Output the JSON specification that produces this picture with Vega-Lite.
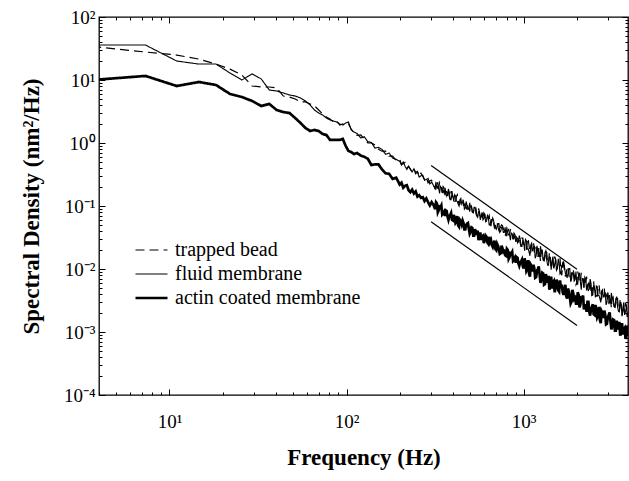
{
  "$schema": "https://vega.github.io/schema/vega-lite/v6.json",
  "width": 529,
  "height": 378,
  "autosize": {"type": "none"},
  "padding": {"left": 99, "top": 17, "right": 1, "bottom": 86},
  "background": "white",
  "config": {
    "font": "Liberation Serif",
    "view": {"stroke": "black", "strokeWidth": 1.3},
    "axis": {
      "labelFont": "Liberation Serif", "titleFont": "Liberation Serif",
      "labelColor": "black", "titleColor": "black", "tickColor": "black",
      "domain": false, "grid": false, "labelFontSize": 19, "titleFontSize": 23,
      "titleFontWeight": "bold", "tickWidth": 1, "labelOverlap": false, "labelFlush": false
    },
    "legend": {"labelFont": "Liberation Serif", "labelFontSize": 20, "labelColor": "black", "labelLimit": 400}
  },
  "datasets": {
    "spec": [
      {"f":3.66,"t":34.0,"m":35.9,"a":10.0},
      {"f":7.32,"t":27.8,"m":35.9,"a":11.6},
      {"f":10.99,"t":24.9,"m":20.0,"a":8.03},
      {"f":14.65,"t":21.5,"m":17.9,"a":9.30},
      {"f":18.31,"t":17.9,"m":17.9,"a":8.33},
      {"f":21.97,"t":14.9,"m":12.9,"a":6.00},
      {"f":25.63,"t":12.0,"m":10.0,"a":5.37},
      {"f":29.30,"t":8.03,"m":12.5,"a":4.64},
      {"f":32.96,"t":7.74,"m":10.4,"a":3.87},
      {"f":36.62,"t":7.74,"m":6.94,"a":4.16},
      {"f":40.28,"t":7.47,"m":6.69,"a":3.34},
      {"f":43.94,"t":5.57,"m":6.22,"a":3.10},
      {"f":47.61,"t":5.37,"m":5.78,"a":2.99},
      {"f":51.27,"t":4.99,"m":5.57,"a":2.49},
      {"f":54.93,"t":4.48,"m":5.18,"a":2.08},
      {"f":58.59,"t":4.48,"m":4.64,"a":1.73},
      {"f":62.26,"t":4.16,"m":4.01,"a":1.55},
      {"f":65.92,"t":3.87,"m":3.34,"a":1.61},
      {"f":69.58,"t":3.34,"m":2.99,"a":1.55},
      {"f":73.24,"t":2.88,"m":2.78,"a":1.39},
      {"f":76.90,"t":2.59,"m":2.49,"a":1.34},
      {"f":80.57,"t":2.40,"m":2.32,"a":1.12},
      {"f":84.23,"t":2.15,"m":2.24,"a":1.12},
      {"f":87.89,"t":2.24,"m":2.15,"a":1.12},
      {"f":91.55,"t":1.93,"m":2.00,"a":1.12},
      {"f":95.21,"t":2.00,"m":1.93,"a":1.16},
      {"f":98.88,"t":1.86,"m":2.08,"a":0.895},
      {"f":102.5,"t":2.00,"m":2.15,"a":0.746},
      {"f":106.2,"t":1.67,"m":1.61,"a":0.719},
      {"f":109.9,"t":1.44,"m":1.50,"a":0.668},
      {"f":114.8,"t":1.318,"m":1.413,"a":0.692},
      {"f":120.2,"t":1.349,"m":1.202,"a":0.631},
      {"f":125.9,"t":1.148,"m":1.259,"a":0.603},
      {"f":131.8,"t":1.0,"m":1.047,"a":0.562},
      {"f":138.0,"t":1.0,"m":1.023,"a":0.447},
      {"f":144.5,"t":0.933,"m":0.832,"a":0.457},
      {"f":151.4,"t":0.794,"m":0.851,"a":0.457},
      {"f":158.5,"t":0.741,"m":0.794,"a":0.380},
      {"f":166.0,"t":0.741,"m":0.661,"a":0.331},
      {"f":173.8,"t":0.617,"m":0.692,"a":0.324},
      {"f":182.0,"t":0.617,"m":0.575,"a":0.269},
      {"f":190.5,"t":0.525,"m":0.550,"a":0.282},
      {"f":199.5,"t":0.550,"m":0.513,"a":0.219},
      {"f":204.2,"t":0.457,"m":0.447,"a":0.234},
      {"f":208.9,"t":0.468,"m":0.501,"a":0.195},
      {"f":213.8,"t":0.490,"m":0.427,"a":0.209},
      {"f":218.8,"t":0.398,"m":0.380,"a":0.214},
      {"f":223.9,"t":0.427,"m":0.427,"a":0.178},
      {"f":229.1,"t":0.380,"m":0.389,"a":0.166},
      {"f":234.4,"t":0.347,"m":0.347,"a":0.182},
      {"f":239.9,"t":0.389,"m":0.389,"a":0.158},
      {"f":245.5,"t":0.339,"m":0.324,"a":0.170},
      {"f":251.2,"t":0.355,"m":0.347,"a":0.141},
      {"f":257.0,"t":0.295,"m":0.288,"a":0.148},
      {"f":263.0,"t":0.331,"m":0.302,"a":0.135},
      {"f":269.2,"t":0.295,"m":0.309,"a":0.138},
      {"f":275.4,"t":0.263,"m":0.257,"a":0.120},
      {"f":281.8,"t":0.288,"m":0.263,"a":0.132},
      {"f":288.4,"t":0.234,"m":0.275,"a":0.115},
      {"f":295.1,"t":0.251,"m":0.224,"a":0.102},
      {"f":302.0,"t":0.257,"m":0.240,"a":0.115},
      {"f":309.0,"t":0.219,"m":0.214,"a":0.105},
      {"f":316.2,"t":0.191,"m":0.186,"a":0.0891},
      {"f":323.6,"t":0.224,"m":0.229,"a":0.110},
      {"f":331.1,"t":0.191,"m":0.191,"a":0.0851},
      {"f":338.8,"t":0.214,"m":0.204,"a":0.0955},
      {"f":346.7,"t":0.166,"m":0.162,"a":0.0741},
      {"f":354.8,"t":0.182,"m":0.195,"a":0.0813},
      {"f":363.1,"t":0.158,"m":0.166,"a":0.0851},
      {"f":371.5,"t":0.170,"m":0.145,"a":0.0676},
      {"f":380.2,"t":0.141,"m":0.166,"a":0.0692},
      {"f":389.0,"t":0.170,"m":0.126,"a":0.0776},
      {"f":398.1,"t":0.135,"m":0.145,"a":0.0589},
      {"f":407.4,"t":0.118,"m":0.151,"a":0.0661},
      {"f":416.9,"t":0.141,"m":0.120,"a":0.0562},
      {"f":426.6,"t":0.126,"m":0.107,"a":0.0490},
      {"f":436.5,"t":0.107,"m":0.126,"a":0.0603},
      {"f":446.7,"t":0.132,"m":0.107,"a":0.0513},
      {"f":457.1,"t":0.102,"m":0.120,"a":0.0537},
      {"f":467.7,"t":0.118,"m":0.0933,"a":0.0427},
      {"f":478.6,"t":0.0891,"m":0.102,"a":0.0525},
      {"f":489.8,"t":0.100,"m":0.0891,"a":0.0437},
      {"f":501.2,"t":0.105,"m":0.0955,"a":0.0389},
      {"f":512.9,"t":0.0813,"m":0.0794,"a":0.0447},
      {"f":524.8,"t":0.0851,"m":0.0955,"a":0.0339},
      {"f":537.0,"t":0.0933,"m":0.0759,"a":0.0389},
      {"f":549.5,"t":0.0708,"m":0.0661,"a":0.0407},
      {"f":562.3,"t":0.0813,"m":0.0794,"a":0.0316},
      {"f":575.4,"t":0.0676,"m":0.0708,"a":0.0288},
      {"f":588.8,"t":0.0603,"m":0.0603,"a":0.0339},
      {"f":602.6,"t":0.0741,"m":0.0741,"a":0.0288},
      {"f":616.6,"t":0.0617,"m":0.0575,"a":0.0324},
      {"f":631.0,"t":0.0661,"m":0.0661,"a":0.0251},
      {"f":645.7,"t":0.0525,"m":0.0501,"a":0.0269},
      {"f":660.7,"t":0.0631,"m":0.0562,"a":0.0240},
      {"f":676.1,"t":0.0537,"m":0.0589,"a":0.0257},
      {"f":691.8,"t":0.0468,"m":0.0457,"a":0.0209},
      {"f":707.9,"t":0.0537,"m":0.0479,"a":0.0251},
      {"f":724.4,"t":0.0407,"m":0.0525,"a":0.0204},
      {"f":741.3,"t":0.0468,"m":0.0398,"a":0.0178},
      {"f":758.6,"t":0.0490,"m":0.0457,"a":0.0214},
      {"f":776.2,"t":0.0389,"m":0.0380,"a":0.0191},
      {"f":794.3,"t":0.0347,"m":0.0339,"a":0.0162},
      {"f":812.8,"t":0.0417,"m":0.0417,"a":0.0200},
      {"f":831.8,"t":0.0347,"m":0.0347,"a":0.0155},
      {"f":851.1,"t":0.0389,"m":0.0372,"a":0.0174},
      {"f":871.0,"t":0.0302,"m":0.0295,"a":0.0135},
      {"f":891.3,"t":0.0331,"m":0.0355,"a":0.0151},
      {"f":912.0,"t":0.0288,"m":0.0302,"a":0.0155},
      {"f":933.3,"t":0.0309,"m":0.0263,"a":0.0123},
      {"f":955.0,"t":0.0257,"m":0.0302,"a":0.0126},
      {"f":977.2,"t":0.0309,"m":0.0229,"a":0.0141},
      {"f":1000,"t":0.0245,"m":0.0269,"a":0.0102},
      {"f":1023,"t":0.0204,"m":0.0295,"a":0.0126},
      {"f":1047,"t":0.0269,"m":0.0209,"a":0.0100},
      {"f":1072,"t":0.0234,"m":0.0186,"a":0.00851},
      {"f":1096,"t":0.0186,"m":0.0240,"a":0.0117},
      {"f":1122,"t":0.0257,"m":0.0191,"a":0.00912},
      {"f":1148,"t":0.0182,"m":0.0234,"a":0.0102},
      {"f":1175,"t":0.0224,"m":0.0162,"a":0.00741},
      {"f":1202,"t":0.0155,"m":0.0186,"a":0.0100},
      {"f":1230,"t":0.0186,"m":0.0158,"a":0.00813},
      {"f":1259,"t":0.0200,"m":0.0182,"a":0.00676},
      {"f":1288,"t":0.0145,"m":0.0138,"a":0.00851},
      {"f":1318,"t":0.0151,"m":0.0182,"a":0.00575},
      {"f":1349,"t":0.0182,"m":0.0138,"a":0.00724},
      {"f":1380,"t":0.0123,"m":0.0115,"a":0.00776},
      {"f":1413,"t":0.0151,"m":0.0151,"a":0.00562},
      {"f":1445,"t":0.0120,"m":0.0132,"a":0.00490},
      {"f":1479,"t":0.0102,"m":0.0105,"a":0.00646},
      {"f":1514,"t":0.0141,"m":0.0145,"a":0.00513},
      {"f":1549,"t":0.0112,"m":0.0102,"a":0.00617},
      {"f":1585,"t":0.0126,"m":0.0126,"a":0.00437},
      {"f":1622,"t":0.00891,"m":0.00871,"a":0.00501},
      {"f":1660,"t":0.0123,"m":0.0105,"a":0.00427},
      {"f":1698,"t":0.00977,"m":0.0112,"a":0.00479},
      {"f":1738,"t":0.00832,"m":0.00813,"a":0.00372},
      {"f":1778,"t":0.0105,"m":0.00851,"a":0.00490},
      {"f":1820,"t":0.00692,"m":0.0102,"a":0.00363},
      {"f":1862,"t":0.00871,"m":0.00692,"a":0.00302},
      {"f":1905,"t":0.00955,"m":0.00851,"a":0.00407},
      {"f":1950,"t":0.00676,"m":0.00676,"a":0.00347},
      {"f":1995,"t":0.00603,"m":0.00575,"a":0.00282},
      {"f":2042,"t":0.00794,"m":0.00794,"a":0.00389},
      {"f":2089,"t":0.00631,"m":0.00631,"a":0.00275},
      {"f":2138,"t":0.00759,"m":0.00708,"a":0.00339},
      {"f":2188,"t":0.00525,"m":0.00501,"a":0.00229},
      {"f":2239,"t":0.00617,"m":0.00692,"a":0.00275},
      {"f":2291,"t":0.00513,"m":0.00550,"a":0.00302},
      {"f":2344,"t":0.00589,"m":0.00468,"a":0.00214},
      {"f":2399,"t":0.00447,"m":0.00589,"a":0.00229},
      {"f":2455,"t":0.00603,"m":0.00389,"a":0.00275},
      {"f":2512,"t":0.00447,"m":0.00490,"a":0.00186},
      {"f":2570,"t":0.00372,"m":0.00537,"a":0.00229},
      {"f":2630,"t":0.00490,"m":0.00380,"a":0.00182},
      {"f":2692,"t":0.00427,"m":0.00339,"a":0.00155},
      {"f":2754,"t":0.00339,"m":0.00447,"a":0.00214},
      {"f":2818,"t":0.00468,"m":0.00355,"a":0.00166},
      {"f":2884,"t":0.00331,"m":0.00427,"a":0.00191},
      {"f":2951,"t":0.00407,"m":0.00295,"a":0.00135},
      {"f":3020,"t":0.00282,"m":0.00347,"a":0.00186},
      {"f":3090,"t":0.00339,"m":0.00288,"a":0.00148},
      {"f":3162,"t":0.00363,"m":0.00331,"a":0.00123},
      {"f":3236,"t":0.00263,"m":0.00251,"a":0.00155},
      {"f":3311,"t":0.00282,"m":0.00339,"a":0.00105},
      {"f":3388,"t":0.00339,"m":0.00251,"a":0.00132},
      {"f":3467,"t":0.00224,"m":0.00209,"a":0.00145},
      {"f":3548,"t":0.00275,"m":0.00275,"a":0.00102},
      {"f":3631,"t":0.00219,"m":0.00240,"a":0.000912},
      {"f":3715,"t":0.00186,"m":0.00191,"a":0.00117},
      {"f":3802,"t":0.00263,"m":0.00263,"a":0.000933},
      {"f":3890,"t":0.00204,"m":0.00186,"a":0.00112},
      {"f":3981,"t":0.00229,"m":0.00229,"a":0.000794},
      {"f":319.9,"t":0.245,"m":0.186,"a":0.115},
      {"f":327.4,"t":0.191,"m":0.234,"a":0.0794},
      {"f":334.9,"t":0.234,"m":0.158,"a":0.0977},
      {"f":342.7,"t":0.209,"m":0.195,"a":0.102},
      {"f":350.7,"t":0.162,"m":0.204,"a":0.0776},
      {"f":358.9,"t":0.204,"m":0.148,"a":0.0692},
      {"f":367.3,"t":0.145,"m":0.170,"a":0.0832},
      {"f":375.8,"t":0.170,"m":0.186,"a":0.0603},
      {"f":384.6,"t":0.126,"m":0.126,"a":0.0724},
      {"f":393.5,"t":0.170,"m":0.155,"a":0.0603},
      {"f":402.7,"t":0.135,"m":0.118,"a":0.0724},
      {"f":412.1,"t":0.120,"m":0.145,"a":0.0537},
      {"f":421.7,"t":0.151,"m":0.118,"a":0.0692},
      {"f":431.5,"t":0.105,"m":0.100,"a":0.0468},
      {"f":441.6,"t":0.129,"m":0.132,"a":0.0575},
      {"f":451.9,"t":0.135,"m":0.115,"a":0.0589},
      {"f":462.4,"t":0.102,"m":0.0891,"a":0.0427},
      {"f":473.1,"t":0.0912,"m":0.118,"a":0.0501},
      {"f":484.2,"t":0.110,"m":0.0891,"a":0.0537},
      {"f":495.5,"t":0.0813,"m":0.112,"a":0.0363},
      {"f":507.0,"t":0.0955,"m":0.100,"a":0.0457},
      {"f":518.8,"t":0.0794,"m":0.0776,"a":0.0339},
      {"f":530.9,"t":0.0977,"m":0.0955,"a":0.0427},
      {"f":543.2,"t":0.0724,"m":0.0692,"a":0.0347},
      {"f":555.9,"t":0.0912,"m":0.0813,"a":0.0288},
      {"f":568.8,"t":0.0617,"m":0.0603,"a":0.0380},
      {"f":582.1,"t":0.0759,"m":0.0794,"a":0.0331},
      {"f":595.6,"t":0.0776,"m":0.0631,"a":0.0257},
      {"f":609.6,"t":0.0575,"m":0.0562,"a":0.0339},
      {"f":623.8,"t":0.0661,"m":0.0708,"a":0.0263},
      {"f":638.3,"t":0.0708,"m":0.0501,"a":0.0324},
      {"f":653.2,"t":0.0479,"m":0.0617,"a":0.0288},
      {"f":668.4,"t":0.0603,"m":0.0646,"a":0.0224},
      {"f":683.9,"t":0.0447,"m":0.0479,"a":0.0282},
      {"f":699.8,"t":0.0562,"m":0.0427,"a":0.0200},
      {"f":716.1,"t":0.0457,"m":0.0525,"a":0.0234},
      {"f":732.8,"t":0.0380,"m":0.0380,"a":0.0174},
      {"f":749.9,"t":0.0501,"m":0.0457,"a":0.0234},
      {"f":767.4,"t":0.0437,"m":0.0380,"a":0.0186},
      {"f":785.2,"t":0.0347,"m":0.0457,"a":0.0166},
      {"f":803.5,"t":0.0447,"m":0.0339,"a":0.0209},
      {"f":822.2,"t":0.0347,"m":0.0427,"a":0.0145},
      {"f":841.4,"t":0.0427,"m":0.0288,"a":0.0178},
      {"f":861.0,"t":0.0380,"m":0.0363,"a":0.0186},
      {"f":881.1,"t":0.0302,"m":0.0372,"a":0.0141},
      {"f":901.6,"t":0.0372,"m":0.0269,"a":0.0126},
      {"f":922.6,"t":0.0263,"m":0.0309,"a":0.0151},
      {"f":944.1,"t":0.0309,"m":0.0339,"a":0.0112},
      {"f":966.1,"t":0.0229,"m":0.0229,"a":0.0132},
      {"f":988.5,"t":0.0309,"m":0.0282,"a":0.0110},
      {"f":1012,"t":0.0240,"m":0.0195,"a":0.0148},
      {"f":1035,"t":0.0204,"m":0.0282,"a":0.00933},
      {"f":1059,"t":0.0309,"m":0.0209,"a":0.0138},
      {"f":1084,"t":0.0178,"m":0.0162,"a":0.00759},
      {"f":1109,"t":0.0251,"m":0.0257,"a":0.0110},
      {"f":1135,"t":0.0275,"m":0.0214,"a":0.0117},
      {"f":1161,"t":0.0182,"m":0.0148,"a":0.00724},
      {"f":1189,"t":0.0151,"m":0.0234,"a":0.00933},
      {"f":1216,"t":0.0219,"m":0.0158,"a":0.0110},
      {"f":1244,"t":0.0132,"m":0.0229,"a":0.00603},
      {"f":1274,"t":0.0182,"m":0.0195,"a":0.00871},
      {"f":1303,"t":0.0138,"m":0.0135,"a":0.00562},
      {"f":1333,"t":0.0195,"m":0.0195,"a":0.00832},
      {"f":1365,"t":0.0123,"m":0.0115,"a":0.00603},
      {"f":1396,"t":0.0182,"m":0.0155,"a":0.00468},
      {"f":1429,"t":0.0100,"m":0.00977,"a":0.00759},
      {"f":1462,"t":0.0145,"m":0.0158,"a":0.00617},
      {"f":1496,"t":0.0158,"m":0.0115,"a":0.00427},
      {"f":1532,"t":0.00955,"m":0.00955,"a":0.00676},
      {"f":1567,"t":0.0123,"m":0.0145,"a":0.00457},
      {"f":1603,"t":0.0148,"m":0.00832,"a":0.00661},
      {"f":1641,"t":0.00794,"m":0.0117,"a":0.00562},
      {"f":1679,"t":0.0115,"m":0.0132,"a":0.00389},
      {"f":1718,"t":0.00759,"m":0.00851,"a":0.00562},
      {"f":1758,"t":0.0110,"m":0.00724,"a":0.00339},
      {"f":1799,"t":0.00794,"m":0.0102,"a":0.00447},
      {"f":1841,"t":0.00631,"m":0.00631,"a":0.00282},
      {"f":1884,"t":0.0100,"m":0.00871,"a":0.00468},
      {"f":1927,"t":0.00813,"m":0.00646,"a":0.00331},
      {"f":1973,"t":0.00562,"m":0.00912,"a":0.00282},
      {"f":2018,"t":0.00912,"m":0.00575,"a":0.00427},
      {"f":2066,"t":0.00603,"m":0.00871,"a":0.00245},
      {"f":2113,"t":0.00871,"m":0.00468,"a":0.00347},
      {"f":2163,"t":0.00741,"m":0.00692,"a":0.00380},
      {"f":2213,"t":0.00513,"m":0.00741,"a":0.00251},
      {"f":2265,"t":0.00759,"m":0.00457,"a":0.00209},
      {"f":2318,"t":0.00447,"m":0.00589,"a":0.00302},
      {"f":2371,"t":0.00589,"m":0.00692,"a":0.00182},
      {"f":2427,"t":0.00372,"m":0.00380,"a":0.00251},
      {"f":2483,"t":0.00617,"m":0.00550,"a":0.00191},
      {"f":2541,"t":0.00437,"m":0.00355,"a":0.00269},
      {"f":2600,"t":0.00372,"m":0.00525,"a":0.00170},
      {"f":2661,"t":0.00562,"m":0.00380,"a":0.00251},
      {"f":2723,"t":0.00324,"m":0.00295,"a":0.00138},
      {"f":2786,"t":0.00457,"m":0.00468,"a":0.00200},
      {"f":2851,"t":0.00501,"m":0.00389,"a":0.00219},
      {"f":2917,"t":0.00331,"m":0.00269,"a":0.00132},
      {"f":2985,"t":0.00282,"m":0.00427,"a":0.00170},
      {"f":3055,"t":0.00398,"m":0.00288,"a":0.00204},
      {"f":3126,"t":0.00240,"m":0.00417,"a":0.00110},
      {"f":3199,"t":0.00331,"m":0.00355,"a":0.00158},
      {"f":3274,"t":0.00251,"m":0.00245,"a":0.00105},
      {"f":3349,"t":0.00355,"m":0.00355,"a":0.00151},
      {"f":3427,"t":0.00224,"m":0.00214,"a":0.00110},
      {"f":3507,"t":0.00339,"m":0.00282,"a":0.000871},
      {"f":3589,"t":0.00182,"m":0.00178,"a":0.00138},
      {"f":3673,"t":0.00263,"m":0.00295,"a":0.00112},
      {"f":3758,"t":0.00288,"m":0.00209,"a":0.000776},
      {"f":3846,"t":0.00174,"m":0.00178,"a":0.00126},
      {"f":3935,"t":0.00224,"m":0.00263,"a":0.000832}
    ]
  },
  "layer": [
    {
      "data": {"name": "spec"},
      "transform": [{"fold": ["t", "m", "a"], "as": ["k", "s"]}],
      "mark": {"type": "line", "clip": true, "color": "black"},
      "encoding": {
        "x": {
          "field": "f", "type": "quantitative",
          "scale": {"type": "log", "domain": [4, 3880], "nice": false},
          "axis": {
            "orient": "bottom",
            "values": [4,5,6,7,8,9,10,20,30,40,50,60,70,80,90,100,200,300,400,500,600,700,800,900,1000,2000,3000],
            "labelExpr": "datum.value == 10 ? '10¹' : datum.value == 100 ? '10²' : datum.value == 1000 ? '10³' : ''",
            "tickSize": {"condition": {"test": "datum.value == 10 || datum.value == 100 || datum.value == 1000", "value": -6}, "value": -3},
            "labelPadding": 23,
            "title": "Frequency (Hz)",
            "titleX": 264.5, "titleY": 62, "titleBaseline": "middle"
          }
        },
        "y": {
          "field": "s", "type": "quantitative",
          "scale": {"type": "log", "domain": [0.0001, 100], "nice": false},
          "axis": {
            "orient": "left",
            "values": [0.0001,0.0002,0.0003,0.0004,0.0005,0.0006,0.0007,0.0008,0.0009,0.001,0.002,0.003,0.004,0.005,0.006,0.007,0.008,0.009,0.01,0.02,0.03,0.04,0.05,0.06,0.07,0.08,0.09,0.1,0.2,0.3,0.4,0.5,0.6,0.7,0.8,0.9,1,2,3,4,5,6,7,8,9,10,20,30,40,50,60,70,80,90,100],
            "labelExpr": "datum.value == 100 ? '10²' : datum.value == 10 ? '10¹' : datum.value == 1 ? '10⁰' : datum.value == 0.1 ? '10⁻¹' : datum.value == 0.01 ? '10⁻²' : datum.value == 0.001 ? '10⁻³' : datum.value == 0.0001 ? '10⁻⁴' : ''",
            "tickSize": {"condition": {"test": "datum.value == 100 || datum.value == 10 || datum.value == 1 || datum.value == 0.1 || datum.value == 0.01 || datum.value == 0.001 || datum.value == 0.0001", "value": -6}, "value": -3},
            "labelPadding": 10,
            "title": "Spectral Density (nm²/Hz)",
            "titleX": -68, "titleY": 189, "titleBaseline": "middle"
          }
        },
        "strokeDash": {
          "field": "k", "type": "nominal",
          "scale": {"domain": ["t", "m", "a"], "range": [[9, 5], [1, 0], [1, 0]]},
          "legend": {
            "title": null, "orient": "none", "legendX": 35, "legendY": 223,
            "symbolType": "stroke", "symbolSize": 1024, "symbolStrokeColor": "black",
            "labelOffset": 6, "rowPadding": 4, "clipHeight": 20,
            "labelExpr": "datum.label == 't' ? 'trapped bead' : datum.label == 'm' ? 'fluid membrane' : 'actin coated membrane'"
          }
        },
        "strokeWidth": {
          "field": "k", "type": "nominal",
          "scale": {"type": "ordinal", "domain": ["t", "m", "a"], "range": [1.2, 1.1, 2.7]},
          "legend": {
            "title": null, "orient": "none", "legendX": 35, "legendY": 223,
            "symbolType": "stroke", "symbolSize": 1024, "symbolStrokeColor": "black",
            "labelOffset": 6, "rowPadding": 4, "clipHeight": 20,
            "labelExpr": "datum.label == 't' ? 'trapped bead' : datum.label == 'm' ? 'fluid membrane' : 'actin coated membrane'"
          }
        }
      }
    },
    {
      "data": {"values": [
        {"f": 300, "s": 0.44, "g": "u"}, {"f": 2000, "s": 0.0099, "g": "u"},
        {"f": 300, "s": 0.0563, "g": "l"}, {"f": 2000, "s": 0.00127, "g": "l"}
      ]},
      "mark": {"type": "line", "color": "black", "strokeWidth": 1.2},
      "encoding": {
        "x": {
          "field": "f", "type": "quantitative",
          "axis": {
            "orient": "top", "labels": false, "title": null,
            "values": [4,5,6,7,8,9,10,20,30,40,50,60,70,80,90,100,200,300,400,500,600,700,800,900,1000,2000,3000],
            "tickSize": {"condition": {"test": "datum.value == 10 || datum.value == 100 || datum.value == 1000", "value": -6}, "value": -3}
          }
        },
        "y": {
          "field": "s", "type": "quantitative",
          "axis": {
            "orient": "right", "labels": false, "title": null,
            "values": [0.0001,0.0002,0.0003,0.0004,0.0005,0.0006,0.0007,0.0008,0.0009,0.001,0.002,0.003,0.004,0.005,0.006,0.007,0.008,0.009,0.01,0.02,0.03,0.04,0.05,0.06,0.07,0.08,0.09,0.1,0.2,0.3,0.4,0.5,0.6,0.7,0.8,0.9,1,2,3,4,5,6,7,8,9,10,20,30,40,50,60,70,80,90,100],
            "tickSize": {"condition": {"test": "datum.value == 100 || datum.value == 10 || datum.value == 1 || datum.value == 0.1 || datum.value == 0.01 || datum.value == 0.001 || datum.value == 0.0001", "value": -6}, "value": -3}
          }
        },
        "detail": {"field": "g"}
      }
    }
  ],
  "resolve": {"axis": {"x": "independent", "y": "independent"}}
}
